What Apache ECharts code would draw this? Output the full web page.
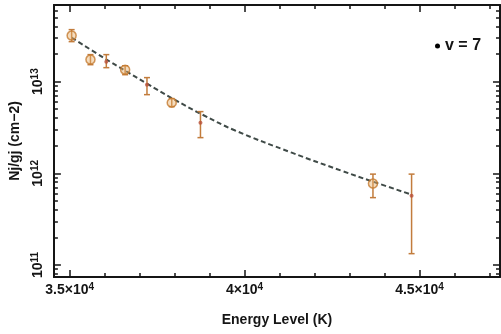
<!DOCTYPE html>
<html><head><meta charset="utf-8">
<script src="https://cdn.jsdelivr.net/npm/echarts@6/dist/echarts.min.js"></script>
<style>html,body{margin:0;padding:0;background:#fff}#c{width:501px;height:334px}</style>
</head><body><div id="c"></div>
<script>
// Measured points (energy level in K, column density Nj/gj in cm^-2)
const energy   = [35057, 35595, 36048, 36586, 37210, 37918, 38739, 43669, 44773];
const column   = [3.18e13, 1.74e13, 1.65e13, 1.35e13, 9.27e12, 5.9e12, 3.57e12, 7.73e11, 5.71e11];
const errLow   = [2.73e13, 1.53e13, 1.42e13, 1.19e13, 7.21e12, 5.34e12, 2.45e12, 5.43e11, 1.33e11];
const errHigh  = [3.69e13, 1.97e13, 1.97e13, 1.49e13, 1.106e13, 6.53e12, 4.71e12, 9.8e11, 9.8e11];
const markerKind = ['ring','ring','dot','ring','dot','ring','dot','ring','dot'];
// Dashed fit curve
const fitEnergy = [35057, 35963, 36586, 37210, 37946, 38796, 39731, 41346, 42762, 43669, 44773];
const fitColumn = [3.02e13, 1.83e13, 1.318e13, 9.5e12, 6.53e12, 4.36e12, 2.93e12, 1.68e12, 1.07e12, 8.11e11, 5.86e11];
// Ticks
const xMajor = [35000, 40000, 45000];
const xMinor = [36000, 37000, 38000, 39000, 41000, 42000, 43000, 44000, 46000, 47000];
const xLabels = {35000: '3.5×10{s|4}', 40000: '4×10{s|4}', 45000: '4.5×10{s|4}'};
const yMajor = [1e11, 1e12, 1e13];
const yMinor = [8e10, 9e10, 2e11, 3e11, 4e11, 5e11, 6e11, 7e11, 8e11, 9e11,
                2e12, 3e12, 4e12, 5e12, 6e12, 7e12, 8e12, 9e12, 2e13, 3e13, 4e13, 5e13, 6e13];
const yLabels = {1e11: '10{s|11}', 1e12: '10{s|12}', 1e13: '10{s|13}'};
const legendName = 'v = 7';

const FONT = 'Liberation Sans';
const INK = '#151515';
const rich = {
  s: {fontSize: 10, fontFamily: FONT, fontWeight: 'bold', color: INK, padding: [0, 0, 7, 0]}
};
const xMin = 34550, xMax = 47300, yMin = 7.4e10, yMax = 6.85e13;

function xAx(pos, ticks, len, line, labels) {
  return {
    type: 'value', min: xMin, max: xMax, position: pos,
    splitLine: {show: false},
    axisLine: {show: line, onZero: false, lineStyle: {color: INK, width: 2}},
    axisTick: {show: true, inside: true, length: len, customValues: ticks, lineStyle: {color: INK, width: 1.5}},
    axisLabel: labels ? {
      show: true, customValues: xMajor, margin: 5, color: INK, fontFamily: FONT, fontSize: 14, fontWeight: 'bold',
      formatter: v => xLabels[v] || '', rich: rich
    } : {show: false}
  };
}
function yAx(pos, ticks, len, line, labels) {
  return {
    type: 'log', logBase: 10, min: yMin, max: yMax, position: pos,
    splitLine: {show: false},
    axisLine: {show: line, onZero: false, lineStyle: {color: INK, width: 2}},
    axisTick: {show: true, inside: true, length: len, customValues: ticks, lineStyle: {color: INK, width: 1.5}},
    axisLabel: labels ? {
      show: true, customValues: yMajor, rotate: 90, margin: 7, color: INK, fontFamily: FONT, fontSize: 14, fontWeight: 'bold',
      formatter: v => yLabels[v] || '', rich: rich
    } : {show: false}
  };
}

const xAxes = [xAx('bottom', xMajor, 7, true, true), xAx('bottom', xMinor, 4, false, false),
               xAx('top', xMajor, 7, true, false), xAx('top', xMinor, 4, false, false)];
Object.assign(xAxes[0], {name: 'Energy Level (K)', nameLocation: 'middle', nameGap: 36,
  nameTextStyle: {color: INK, fontFamily: FONT, fontSize: 14, fontWeight: 'bold'}});
const yAxes = [yAx('left', yMajor, 7, true, true), yAx('left', yMinor, 4, false, false),
               yAx('right', yMajor, 7, true, false), yAx('right', yMinor, 4, false, false)];
Object.assign(yAxes[0], {name: 'Nj/gj (cm−2)', nameLocation: 'middle', nameGap: 26, nameRotate: 90,
  nameTextStyle: {color: INK, fontFamily: FONT, fontSize: 14, fontWeight: 'bold'}});

const ringData = [], dotData = [], errData = [];
energy.forEach((e, i) => {
  (markerKind[i] === 'ring' ? ringData : dotData).push([e, column[i]]);
  errData.push([e, errLow[i], errHigh[i]]);
});

const chart = echarts.init(document.getElementById('c'), null, {renderer: 'canvas'});
chart.setOption({
  animation: false,
  backgroundColor: '#fff',
  grid: {left: 50, right: 1, top: 5, bottom: 57, containLabel: false},
  xAxis: xAxes,
  yAxis: yAxes,
  legend: {
    left: 430, top: 33, itemWidth: 5, itemHeight: 5, itemGap: 5,
    data: [{name: legendName, icon: 'circle', itemStyle: {color: '#000'}}],
    textStyle: {color: INK, fontFamily: FONT, fontSize: 16, fontWeight: 'bold'}
  },
  series: [
    {
      name: legendName, type: 'line', xAxisIndex: 0, yAxisIndex: 0,
      data: fitEnergy.map((e, i) => [e, fitColumn[i]]),
      smooth: 0.4, showSymbol: false, symbol: 'none',
      lineStyle: {color: '#3f4a47', width: 2, type: [5, 3]}, z: 3
    },
    {
      type: 'custom', xAxisIndex: 0, yAxisIndex: 0, data: errData, z: 4,
      renderItem: function (params, api) {
        const x = api.value(0);
        const lo = api.coord([x, api.value(1)]);
        const hi = api.coord([x, api.value(2)]);
        const c = 3;
        const st = {stroke: '#c27c3c', lineWidth: 1.5};
        return {type: 'group', children: [
          {type: 'line', shape: {x1: lo[0], y1: lo[1], x2: hi[0], y2: hi[1]}, style: st},
          {type: 'line', shape: {x1: lo[0] - c, y1: lo[1], x2: lo[0] + c, y2: lo[1]}, style: st},
          {type: 'line', shape: {x1: hi[0] - c, y1: hi[1], x2: hi[0] + c, y2: hi[1]}, style: st}
        ]};
      }
    },
    {
      type: 'scatter', xAxisIndex: 0, yAxisIndex: 0, data: ringData, symbol: 'circle', symbolSize: 9, z: 5,
      itemStyle: {color: 'rgba(232,178,110,0.55)', borderColor: '#c47a30', borderWidth: 1.5}
    },
    {
      type: 'scatter', xAxisIndex: 0, yAxisIndex: 0, data: dotData, symbol: 'circle', symbolSize: 4, z: 5,
      itemStyle: {color: '#b8503a'}
    }
  ]
});
</script></body></html>
